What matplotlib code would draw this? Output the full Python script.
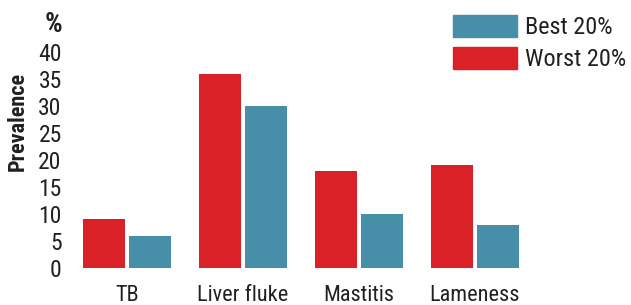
import matplotlib.pyplot as plt
import numpy as np
from matplotlib.patches import Patch

categories = ["TB", "Liver fluke", "Mastitis", "Lameness"]
worst = [9, 36, 18, 19]
best = [6, 30, 10, 8]
yticks = [0, 5, 10, 15, 20, 25, 30, 35, 40]

RED = "#da2128"
TEAL = "#478ea8"
TXT = "#231f20"

plt.rcParams["font.family"] = ["Roboto Condensed", "DejaVu Sans"]

fig = plt.figure(figsize=(6.31, 3.05), dpi=100)
ax = fig.add_axes([70 / 631, 1 - 268 / 305, 1 - 70 / 631, (268 - 52) / 305])

x = np.arange(len(categories))
w = 0.362
off = 0.198
ax.bar(x - off, worst, width=w, color=RED)
ax.bar(x + off, best, width=w, color=TEAL)

ax.set_xlim((70 - 127) / 116, (631 - 127) / 116)
ax.set_ylim(0, 40)
ax.set_yticks(yticks)
ax.set_yticklabels([str(t) for t in yticks], fontsize=17, color=TXT)
ax.set_xticks(x)
ax.set_xticklabels(categories, fontsize=16, color=TXT)
ax.tick_params(axis="y", length=0, pad=6)
ax.tick_params(axis="x", length=0, pad=12)
for s in ax.spines.values():
    s.set_visible(False)

fig.text(53 / 631, 1 - 25 / 305, "%", fontsize=20, fontweight="bold", color=TXT,
         ha="center", va="center")
ax.set_ylabel("Prevalence", fontsize=16, fontweight="bold", color=TXT)
ax.yaxis.set_label_coords(-0.073, 0.68)

handles = [Patch(color=TEAL, label="Best 20%"), Patch(color=RED, label="Worst 20%")]
fig.legend(handles=handles, loc="upper left", bbox_to_anchor=(453 / 631, 1 - 15 / 305),
           frameon=False, fontsize=17.5, handlelength=2.63, handleheight=1.0,
           handletextpad=0.33, labelspacing=0.32, borderpad=0, borderaxespad=0,
           labelcolor=TXT)

fig.savefig("out.png", dpi=100)
